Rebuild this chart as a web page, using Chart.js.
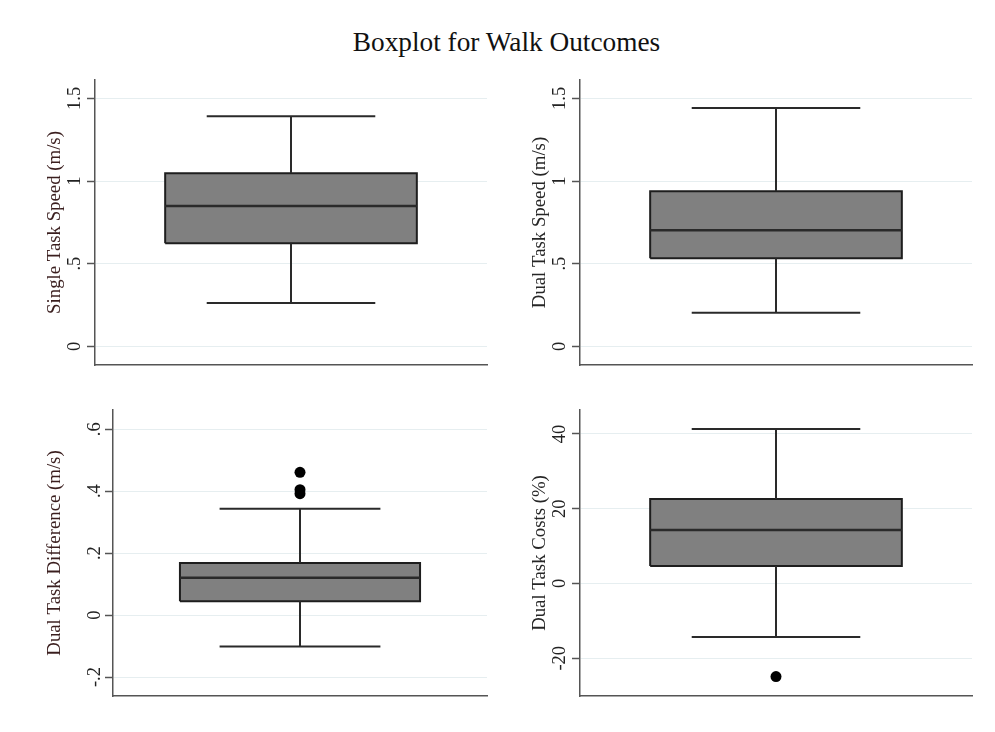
<!DOCTYPE html>
<html><head><meta charset="utf-8">
<script src="https://cdn.jsdelivr.net/npm/chart.js@4.4.1/dist/chart.umd.min.js"></script>
<style>
html,body{margin:0;padding:0;background:#fff;}
#wrap{position:relative;width:995px;height:732px;overflow:hidden;}
#wrap canvas{position:absolute;left:0;top:0;}
#title{position:absolute;left:0;top:29px;width:1013px;text-align:center;font:27.3px/27px 'Liberation Serif','Times New Roman',serif;color:#111;}
</style></head><body>
<div id="wrap">
<div id="title">Boxplot for Walk Outcomes</div>
<canvas id="c0" width="995" height="732"></canvas>
<canvas id="c1" width="995" height="732"></canvas>
<canvas id="c2" width="995" height="732"></canvas>
<canvas id="c3" width="995" height="732"></canvas>
</div>
<script>
// ---- data ----
const measures = ['Single Task Speed (m/s)', 'Dual Task Speed (m/s)', 'Dual Task Difference (m/s)', 'Dual Task Costs (%)'];
const lowerWhisker = [0.262, 0.203, -0.101, -14.3];
const q1 = [0.623, 0.532, 0.045, 4.7];
const median = [0.849, 0.702, 0.121, 14.3];
const q3 = [1.047, 0.938, 0.168, 22.6];
const upperWhisker = [1.391, 1.441, 0.343, 41.3];
const outliers = [[], [], [0.461, 0.405, 0.392], [-24.9]];
const yTicks = [[0, 0.5, 1, 1.5], [0, 0.5, 1, 1.5], [-0.2, 0, 0.2, 0.4, 0.6], [-20, 0, 20, 40]];
const yMin = [-0.113, -0.113, -0.261, -30.1];
const yMax = [1.611, 1.611, 0.662, 46.4];

// ---- layout / style ----
const FONT = "'Liberation Serif','Times New Roman',serif";
const BOX_WIDTH = 0.642;  // fraction of plot width
const CAP_WIDTH = 0.43;
const layouts = [
  {L: 95,  R: 487, T: 80,  B: 365, axisW: 60, titlePad: 9, color: '#3a1e1e'},
  {L: 580, R: 972, T: 80,  B: 365, axisW: 60, titlePad: 9, color: '#262626'},
  {L: 113, R: 487, T: 410, B: 696, axisW: 78, titlePad: 9, color: '#3a1e1e'},
  {L: 580, R: 972, T: 410, B: 696, axisW: 60, titlePad: 9, color: '#262626'}
];

function fmt(v) {
  if (v === 0) return '0';
  return String(v).replace(/^(-?)0\./, '$1.');
}

function seg(pts, width, order) {
  return {type: 'line', data: pts, borderColor: '#2a2a2a', borderWidth: width,
    pointRadius: 0, fill: false, tension: 0, order: order};
}

function makeChart(i) {
  const lay = layouts[i];
  const hb = BOX_WIDTH / 2, hc = CAP_WIDTH / 2;
  const l = 0.5 - hb, r = 0.5 + hb;
  const datasets = [
    {type: 'line', data: [{x: l, y: q1[i]}, {x: r, y: q1[i]}, {x: r, y: q3[i]}, {x: l, y: q3[i]}, {x: l, y: q1[i]}],
      fill: 'shape', backgroundColor: '#808080', borderColor: '#1e1e1e', borderWidth: 2,
      borderJoinStyle: 'miter', pointRadius: 0, tension: 0, order: 3},
    seg([{x: l, y: median[i]}, {x: r, y: median[i]}], 2.5, 1),
    seg([{x: 0.5, y: q3[i]}, {x: 0.5, y: upperWhisker[i]}], 2, 2),
    seg([{x: 0.5, y: q1[i]}, {x: 0.5, y: lowerWhisker[i]}], 2, 2),
    seg([{x: 0.5 - hc, y: upperWhisker[i]}, {x: 0.5 + hc, y: upperWhisker[i]}], 2, 2),
    seg([{x: 0.5 - hc, y: lowerWhisker[i]}, {x: 0.5 + hc, y: lowerWhisker[i]}], 2, 2),
    {type: 'scatter', data: outliers[i].map(v => ({x: 0.5, y: v})),
      pointRadius: 5.5, pointBackgroundColor: '#000', pointBorderWidth: 0, order: 0}
  ];
  return new Chart(document.getElementById('c' + i), {
    type: 'scatter',
    data: {datasets: datasets},
    options: {
      responsive: false, animation: false,
      layout: {padding: {left: lay.L - lay.axisW, right: 995 - lay.R, top: lay.T, bottom: 732 - lay.B}},
      plugins: {legend: {display: false}, tooltip: {enabled: false}, title: {display: false}},
      scales: {
        x: {type: 'linear', min: 0, max: 1, display: true,
          ticks: {display: false}, grid: {display: false, drawTicks: false},
          border: {display: true, color: '#555', width: 1.5},
          afterFit: s => { s.height = 0; }},
        y: {type: 'linear', position: 'left', min: yMin[i], max: yMax[i],
          afterBuildTicks: s => { s.ticks = yTicks[i].map(v => ({value: v})); },
          afterFit: s => { s.width = lay.axisW; },
          ticks: {minRotation: 90, maxRotation: 90, crossAlign: 'center', padding: 0,
            autoSkip: false, font: {family: FONT, size: 18.5}, color: '#222',
            callback: v => fmt(v)},
          grid: {color: '#e6eef0', lineWidth: 1, drawTicks: true, tickLength: 8,
            tickColor: '#555', tickWidth: 1.5},
          border: {display: true, color: '#555', width: 1.5},
          title: {display: true, text: measures[i], font: {family: FONT, size: 18.8},
            color: lay.color, padding: {top: lay.titlePad, bottom: 0}}}
      }
    }
  });
}
for (let i = 0; i < 4; i++) makeChart(i);
</script>
</body></html>
